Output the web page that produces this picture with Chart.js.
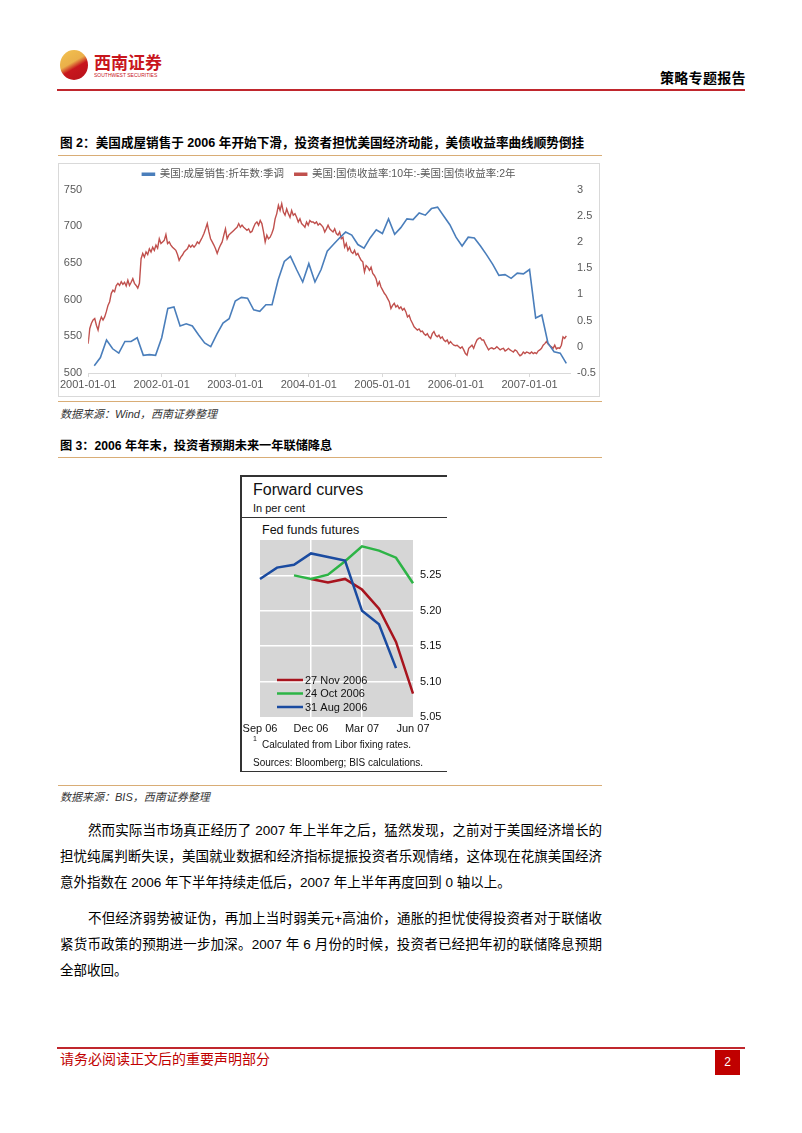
<!DOCTYPE html>
<html lang="zh-CN">
<head>
<meta charset="utf-8">
<title>策略专题报告</title>
<script src="https://cdn.jsdelivr.net/npm/chart.js@4.4.1/dist/chart.umd.min.js"></script>
<style>
  html, body { margin: 0; padding: 0; background: #fff; }
  body { width: 802px; height: 1133px; position: relative; overflow: hidden;
         font-family: "Liberation Sans", "Noto Sans CJK SC", sans-serif; color: #000; }
  .abs { position: absolute; white-space: nowrap; }
  .rule-red { position: absolute; left: 57px; width: 688px; height: 2px; background: #c0272d; }
  .rule-tan { position: absolute; left: 58px; width: 544px; height: 1px; background: #d9ad76; }
  .fig-title { position: absolute; left: 60px; line-height: 16px; font-weight: bold; white-space: nowrap; }
  .source { position: absolute; left: 60px; font-size: 11px; line-height: 14px; font-style: italic; color: #333; white-space: nowrap; }
  .txt { position: absolute; left: 60px; width: 542px; font-size: 13.5px; line-height: 20px;
         text-align: justify; text-align-last: justify; }
  .txt.first { text-indent: 28px; }
  .txt.last { text-align-last: left; }
  .bis-line { position: absolute; background: #333; }
</style>
</head>
<body>

<!-- 页眉 -->
<div class="abs" style="left:60px;top:50px;width:28px;height:30px;border-radius:50%;
     background:linear-gradient(150deg,#f3c24f 0%,#eab04a 42%,#c8161d 58%,#b5121a 100%);"></div>
<div class="abs" style="left:94px;top:52px;font-size:17px;line-height:20px;font-weight:bold;color:#c8161d;font-family:'Noto Sans CJK SC';">西南证券</div>
<div class="abs" style="left:94px;top:73px;font-size:10px;line-height:10px;color:#c8161d;transform:scale(0.5);transform-origin:0 0;">SOUTHWEST SECURITIES</div>
<div class="abs" style="left:660px;top:69px;font-size:14px;line-height:18px;font-weight:bold;letter-spacing:0.3px;">策略专题报告</div>
<div class="rule-red" style="top:89px;"></div>

<!-- 图 2 -->
<div class="fig-title" style="top:135px;font-size:12.6px;">图 2：美国成屋销售于 2006 年开始下滑，投资者担忧美国经济动能，美债收益率曲线顺势倒挂</div>
<div class="rule-tan" style="top:155px;"></div>
<div class="abs" style="left:58px;top:163px;width:542px;height:234px;box-sizing:border-box;border:1px solid #d9d9d9;">
  <canvas id="salesChart" width="540" height="232"></canvas>
</div>
<div class="rule-tan" style="top:401px;"></div>
<div class="source" style="top:407px;">数据来源：Wind，西南证券整理</div>

<!-- 图 3 -->
<div class="fig-title" style="top:438px;font-size:12.2px;">图 3：2006 年年末，投资者预期未来一年联储降息</div>
<div class="rule-tan" style="top:457px;"></div>

<div class="bis-line" style="left:240px;top:475px;width:1.5px;height:297px;"></div>
<div class="bis-line" style="left:240px;top:475px;width:207px;height:1.5px;"></div>
<div class="bis-line" style="left:240px;top:517px;width:207px;height:1px;"></div>
<div class="bis-line" style="left:240px;top:770.5px;width:207px;height:1.5px;"></div>
<div class="abs" style="left:253px;top:481px;font-size:16px;line-height:18px;color:#111;">Forward curves</div>
<div class="abs" style="left:253px;top:501px;font-size:11px;line-height:14px;color:#111;">In per cent</div>
<div class="abs" style="left:262px;top:523px;font-size:12.5px;line-height:15px;color:#111;">Fed funds futures</div>
<canvas id="fwdChart" class="abs" style="left:241px;top:537px;" width="206" height="200"></canvas>
<div class="abs" style="left:253px;top:735px;font-size:7px;line-height:8px;color:#111;">1</div>
<div class="abs" style="left:262px;top:737.5px;font-size:10px;line-height:13px;color:#111;">Calculated from Libor fixing rates.</div>
<div class="abs" style="left:253px;top:756px;font-size:10px;line-height:13px;color:#111;">Sources: Bloomberg; BIS calculations.</div>

<div class="rule-tan" style="top:785px;"></div>
<div class="source" style="top:790px;">数据来源：BIS，西南证券整理</div>

<!-- 正文 -->
<div class="txt first" style="top:821px;">然而实际当市场真正经历了 2007 年上半年之后，猛然发现，之前对于美国经济增长的</div>
<div class="txt" style="top:847px;">担忧纯属判断失误，美国就业数据和经济指标提振投资者乐观情绪，这体现在花旗美国经济</div>
<div class="txt last" style="top:873px;">意外指数在 2006 年下半年持续走低后，2007 年上半年再度回到 0 轴以上。</div>
<div class="txt first" style="top:909px;">不但经济弱势被证伪，再加上当时弱美元+高油价，通胀的担忧使得投资者对于联储收</div>
<div class="txt" style="top:935px;">紧货币政策的预期进一步加深。2007 年 6 月份的时候，投资者已经把年初的联储降息预期</div>
<div class="txt last" style="top:961px;">全部收回。</div>

<!-- 页脚 -->
<div class="rule-red" style="top:1047px;height:1.5px;"></div>
<div class="abs" style="left:60px;top:1051px;font-size:14px;line-height:17px;color:#c00000;">请务必阅读正文后的重要声明部分</div>
<div class="abs" style="left:715px;top:1050px;width:25px;height:25px;background:#c00000;color:#fff;font-size:12px;line-height:25px;text-align:center;">2</div>

<script>
// 图2：美国成屋销售（月度，万套，折年数季调），2001-02 起
const SALES_START = 2001 + 1 / 12;
const HOME_SALES = [
  510, 521, 545, 533, 527, 543, 543, 548, 524, 525, 524, 548,
  588, 590, 564, 567, 564, 552, 541, 536, 553, 568, 574, 598,
  603, 602, 586, 584, 593, 593, 627, 652, 659, 641, 624, 649,
  624, 641, 666, 675, 684, 692, 688, 675, 670, 684, 695, 690,
  710, 689, 698, 710, 709, 718, 715, 724, 726, 714, 702, 685,
  673, 685, 684, 673, 661, 648, 633, 634, 629, 636, 635, 641,
  575, 579, 541, 529, 527, 513
];

// 10年-2年国债利差（%），约每 8 天读一个点，2001-01 到 2007-06
const SPREAD_START = 2001.0;
const SPREAD_END = 2007.5;
const SPREAD_10Y_2Y = [
  0.06, 0.35, 0.45, 0.51, 0.54, 0.41, 0.32, 0.48, 0.57, 0.51,
  0.57, 0.67, 0.79, 0.86, 1.02, 1.08, 1.05, 1.17, 1.21, 1.17,
  1.24, 1.19, 1.23, 1.16, 1.27, 1.17, 1.23, 1.30, 1.21, 1.17,
  1.12, 1.21, 1.68, 1.78, 1.71, 1.81, 1.76, 1.87, 1.81, 1.90,
  1.84, 1.94, 1.88, 2.06, 1.97, 2.00, 2.03, 2.14, 1.97, 2.00,
  1.94, 1.90, 1.87, 1.84, 1.76, 1.65, 1.71, 1.75, 1.81, 1.84,
  1.87, 1.94, 1.90, 1.94, 1.90, 1.94, 2.00, 1.97, 2.03, 2.09,
  2.16, 2.25, 2.35, 2.19, 2.06, 2.00, 1.94, 1.87, 1.78, 1.87,
  1.94, 2.00, 2.13, 2.25, 2.06, 2.13, 2.16, 2.19, 2.22, 2.25,
  2.28, 2.35, 2.28, 2.32, 2.28, 2.25, 2.22, 2.25, 2.18, 2.20,
  2.28, 2.35, 2.38, 2.32, 2.41, 2.35, 2.19, 2.00, 2.13, 2.06,
  2.09, 2.16, 2.25, 2.44, 2.54, 2.70, 2.60, 2.73, 2.57, 2.51,
  2.63, 2.54, 2.47, 2.60, 2.51, 2.54, 2.47, 2.38, 2.44, 2.35,
  2.32, 2.28, 2.38, 2.32, 2.41, 2.38, 2.38, 2.35, 2.38, 2.32,
  2.35, 2.32, 2.28, 2.19, 2.25, 2.32, 2.25, 2.22, 2.19, 2.25,
  2.16, 2.13, 2.19, 2.06, 2.09, 1.90, 1.97, 1.84, 1.90, 1.81,
  1.78, 1.84, 1.75, 1.78, 1.71, 1.65, 1.62, 1.43, 1.55, 1.52,
  1.46, 1.52, 1.40, 1.36, 1.30, 1.17, 1.24, 1.14, 1.08, 1.02,
  0.98, 0.92, 0.86, 0.73, 0.79, 0.83, 0.76, 0.79, 0.73, 0.76,
  0.70, 0.73, 0.67, 0.57, 0.60, 0.51, 0.45,
  0.38, 0.35, 0.32, 0.34, 0.29, 0.30, 0.25, 0.22, 0.25, 0.19,
  0.16, 0.25, 0.29, 0.22, 0.19, 0.22, 0.16, 0.19, 0.13, 0.10,
  0.13, 0.06, 0.10, 0.06, 0.03, 0.02, 0.03, 0.00, -0.03, 0.00,
  -0.06, -0.13, -0.16, -0.03, 0.00, 0.03, -0.03, 0.06, 0.13, 0.16,
  0.17, 0.13, 0.13, 0.06, 0.00, -0.06, -0.03, -0.02, -0.04, -0.03,
  0.00, -0.03, -0.06, -0.04, -0.03, -0.08, -0.06, -0.03, -0.06, -0.08,
  -0.10, -0.06, -0.08, -0.13, -0.17, -0.15, -0.10, -0.13, -0.10, -0.11,
  -0.13, -0.10, -0.13, -0.11, -0.13, -0.08, -0.06, -0.03, 0.03, 0.06,
  0.10, 0.05, 0.02, 0.00, -0.03, 0.03, -0.04, -0.02, -0.03, 0.03,
  0.19, 0.16, 0.21
];

const SALES_LABEL = '美国:成屋销售:折年数:季调';
const SPREAD_LABEL = '美国:国债收益率:10年:-美国:国债收益率:2年';
const YEAR_LABELS = ['2001-01-01', '2002-01-01', '2003-01-01', '2004-01-01',
                     '2005-01-01', '2006-01-01', '2007-01-01'];

// 图3：联邦基金期货远期曲线（%）
const FWD_MONTHS = ['Sep 06', 'Oct 06', 'Nov 06', 'Dec 06', 'Jan 07',
                    'Feb 07', 'Mar 07', 'Apr 07', 'May 07', 'Jun 07'];
const FWD_NOV27 = [null, null, null, 5.245, 5.240, 5.245, 5.230, 5.203, 5.156, 5.083];
const FWD_OCT24 = [null, null, 5.250, 5.245, 5.251, 5.270, 5.291, 5.285, 5.275, 5.239];
const FWD_AUG31 = [5.245, 5.261, 5.265, 5.281, 5.276, 5.271, 5.200, 5.181, 5.119, null];

Chart.defaults.font.family = "'Liberation Sans', 'Noto Sans CJK SC', sans-serif";
Chart.defaults.animation = false;

const BLUE = '#4a7ebb';
const RED = '#c0504d';

const salesPts = HOME_SALES.map((v, i) => ({ x: SALES_START + i / 12, y: v }));
const spreadStep = (SPREAD_END - SPREAD_START) / (SPREAD_10Y_2Y.length - 1);
const spreadPts = SPREAD_10Y_2Y.map((v, i) => ({ x: SPREAD_START + i * spreadStep, y: v }));

new Chart(document.getElementById('salesChart'), {
  type: 'line',
  data: {
    datasets: [
      { label: SALES_LABEL + '  ', data: salesPts, yAxisID: 'yL',
        borderColor: BLUE, backgroundColor: BLUE, borderWidth: 1.6,
        pointRadius: 0, tension: 0, order: 0 },
      { label: SPREAD_LABEL, data: spreadPts, yAxisID: 'yR',
        borderColor: RED, backgroundColor: RED, borderWidth: 1.4,
        pointRadius: 0, tension: 0, order: 1 }
    ]
  },
  options: {
    responsive: false,
    devicePixelRatio: 1,
    layout: { padding: { top: 0, left: 0, right: 0, bottom: 0 } },
    plugins: {
      tooltip: { enabled: false },
      legend: {
        position: 'top',
        labels: { boxWidth: 12, boxHeight: 2, padding: 5, color: '#595959',
                  font: { size: 10.5 } }
      }
    },
    scales: {
      x: {
        type: 'linear', min: 2001, max: 2007.55,
        afterBuildTicks: s => { s.ticks = s.ticks.filter(t => Number.isInteger(t.value)); },
        afterFit: s => { s.height = 23; },
        ticks: { stepSize: 1, includeBounds: false, autoSkip: false, maxRotation: 0,
                 padding: 1, color: '#595959', font: { size: 11 },
                 callback: v => YEAR_LABELS[v - 2001] || '' },
        grid: { drawOnChartArea: false, drawTicks: true, tickLength: 4, color: '#d9d9d9' },
        border: { display: true, color: '#d9d9d9' }
      },
      yL: {
        position: 'left', min: 500, max: 750,
        afterFit: s => { s.width = 29; },
        ticks: { stepSize: 50, padding: 6, color: '#595959', font: { size: 11 } },
        grid: { display: false, drawTicks: false },
        border: { display: false }
      },
      yR: {
        position: 'right', min: -0.5, max: 3,
        afterFit: s => { s.width = 29; },
        ticks: { stepSize: 0.5, padding: 7, color: '#595959', font: { size: 11 },
                 callback: v => String(Math.round(v * 10) / 10) },
        grid: { display: false, drawTicks: false },
        border: { display: false }
      }
    }
  }
});

// 图3 灰色底板和图内图例
const plotBackground = {
  id: 'plotBackground',
  beforeDraw(chart) {
    const { ctx, chartArea: a } = chart;
    ctx.save();
    ctx.fillStyle = '#d6d6d6';
    ctx.fillRect(a.left, a.top, a.right - a.left, a.bottom - a.top);
    ctx.restore();
  }
};

const innerLegend = {
  id: 'innerLegend',
  afterDatasetsDraw(chart) {
    const { ctx, chartArea: a } = chart;
    ctx.save();
    ctx.font = "11px 'Liberation Sans'";
    ctx.textBaseline = 'middle';
    chart.data.datasets.forEach((ds, i) => {
      const y = a.bottom - 37 + i * 13.5;
      ctx.strokeStyle = ds.borderColor;
      ctx.lineWidth = 2.5;
      ctx.beginPath();
      ctx.moveTo(a.left + 17, y);
      ctx.lineTo(a.left + 43, y);
      ctx.stroke();
      ctx.fillStyle = '#111';
      ctx.fillText(ds.label, a.left + 45, y + 0.5);
    });
    ctx.restore();
  }
};

new Chart(document.getElementById('fwdChart'), {
  type: 'line',
  data: {
    labels: FWD_MONTHS,
    datasets: [
      { label: '27 Nov 2006', data: FWD_NOV27, borderColor: '#a8141e', order: 2 },
      { label: '24 Oct 2006', data: FWD_OCT24, borderColor: '#2db446', order: 1 },
      { label: '31 Aug 2006', data: FWD_AUG31, borderColor: '#1a4ba0', order: 0 }
    ].map(d => Object.assign(d, { borderWidth: 2.5, pointRadius: 0, tension: 0, spanGaps: false }))
  },
  plugins: [plotBackground, innerLegend],
  options: {
    responsive: false,
    devicePixelRatio: 1,
    layout: { padding: { left: 19, top: 3, right: 0, bottom: 0 } },
    plugins: { legend: { display: false }, tooltip: { enabled: false } },
    scales: {
      x: {
        offset: false,
        afterFit: s => { s.height = 20; s.paddingLeft = 0; s.paddingRight = 0; },
        ticks: { autoSkip: false, maxRotation: 0, padding: 5, color: '#111', font: { size: 11 },
                 callback: (v, i) => (i % 3 === 0 ? FWD_MONTHS[i] : '') },
        grid: { drawTicks: false, lineWidth: 1.5,
                color: c => (c.index === 3 || c.index === 6) ? '#ffffff' : 'rgba(0,0,0,0)' },
        border: { display: false }
      },
      y: {
        position: 'right', min: 5.05, max: 5.30,
        afterFit: s => { s.width = 34; s.paddingTop = 0; s.paddingBottom = 0; },
        // 顶端 5.30 不标注
        afterBuildTicks: s => { s.ticks = s.ticks.filter(t => t.value < 5.29); },
        ticks: { stepSize: 0.05, padding: 7, color: '#111', font: { size: 11 },
                 callback: v => v.toFixed(2) },
        grid: { drawTicks: false, lineWidth: 1.5,
                color: c => (c.tick && c.tick.value > 5.06) ? '#ffffff' : 'rgba(0,0,0,0)' },
        border: { display: false }
      }
    }
  }
});
</script>
</body>
</html>
